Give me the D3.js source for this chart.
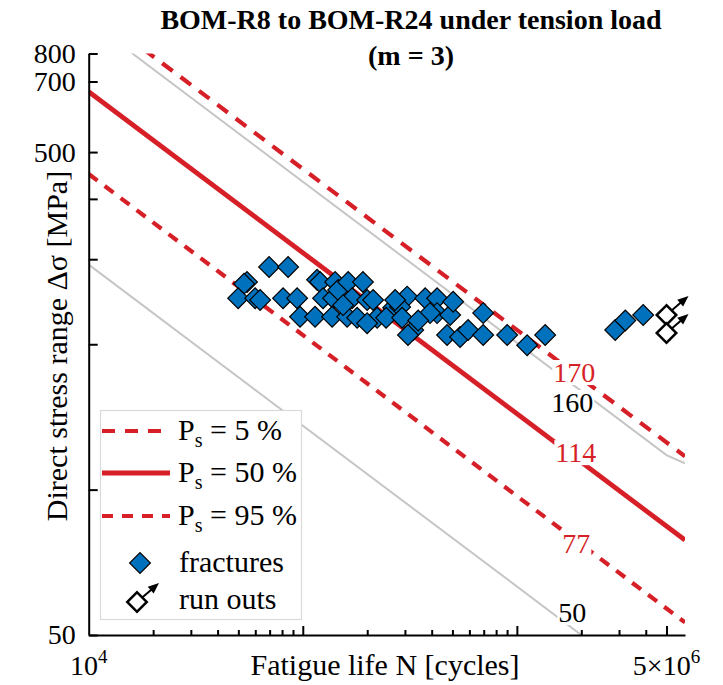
<!DOCTYPE html>
<html>
<head>
<meta charset="utf-8">
<script src="https://cdn.jsdelivr.net/npm/d3@7"></script>
<style>
  body { margin: 0; background: #fff; }
  svg { display: block; }
  text { font-family: "Liberation Serif", "Times New Roman", serif; fill: #000; }
</style>
</head>
<body>
<svg id="chart" width="723" height="685"></svg>
<script>
// ---- data ----------------------------------------------------------
// fractured specimens: cycles to failure and direct stress range [MPa]
const fractureN = [
  69.6e3, 85.4e3, 54.9e3, 53.2e3, 49.9e3, 59.9e3, 63.2e3, 80.9e3, 94.1e3, 97.1e3,
  116.6e3, 120.4e3, 124.4e3, 114.1e3, 141.6e3, 138.5e3, 137.1e3, 146.2e3,
  163e3, 170e3, 161.1e3, 154.3e3, 191e3, 199.8e3, 179.4e3, 213.1e3, 222.5e3, 199.8e3,
  264.2e3, 307.2e3, 285e3, 328e3, 310e3, 245e3, 291e3, 270e3,
  373e3, 424e3, 424e3, 488e3, 472e3, 393e3, 346e3, 504e3,
  543e3, 592e3, 696e3, 696e3, 901e3, 1117e3, 1356e3,
  2880e3, 3210e3, 3890e3
];
const fractureS = [
  289, 289, 269, 267, 249, 249, 247, 249, 249, 228,
  272, 269, 249, 228, 269, 249, 228, 259,
  269, 249, 228, 241, 269, 247, 227, 247, 227, 221,
  238, 251, 239, 214, 209, 227, 227, 247,
  249, 249, 232, 230, 209, 232, 224, 245,
  207, 214, 232, 209, 209, 199, 209,
  214, 224, 230
];
// run-outs (test stopped without failure)
const runoutN = [5e6, 5e6];
const runoutS = [230, 211];

// scatter band: characteristic stress range at 2e6 cycles, slope m = 3
const bandNames  = ["5 %", "50 %", "95 %"];
const bandStress = [170, 114, 77];
const bandLabels = ["170", "114", "77"];

// detail categories (slope 3, knee at 5e6 then slope 5)
const detailStress = [160, 50];
const detailLabels = ["160", "50"];

// axis ticks
const xMajorTicks = [1e5, 1e6, 5e6];
const xMinorTicks = [2e4, 3e4, 4e4, 5e4, 6e4, 7e4, 8e4, 9e4,
                     2e5, 3e5, 4e5, 5e5, 6e5, 7e5, 8e5, 9e5,
                     2e6, 3e6, 4e6];
const yTickValues = [50, 100, 200, 300, 400, 500, 700, 800];
const yTickText   = ["50", "", "", "", "", "500", "700", "800"];

// ---- drawing -------------------------------------------------------
const RED = "#d61f26", BLUE = "#0072bd", GREY = "#c6c6c6";
const FS = 28, FS_LAB = 30;
const svg = d3.select("#chart");

const x = d3.scaleLog().domain([1e4, 6.1e6]).range([88.7, 685]);
const y = d3.scaleLog().domain([50, 800]).range([635, 53.5]);
const [x0, x1] = x.range(), [y0, y1] = y.range();

svg.append("defs").append("clipPath").attr("id", "plotClip")
  .append("rect").attr("x", x0).attr("y", y1).attr("width", x1 - x0).attr("height", y0 - y1);

const plot = svg.append("g").attr("clip-path", "url(#plotClip)");
const line = d3.line().x(d => x(d[0])).y(d => y(d[1]));

const nRef = 2e6, nKnee = 5e6, nStart = 1e4, nEnd = 6.1e6;

// detail-category curves
detailStress.forEach(s => {
  const sKnee = s * Math.pow(nRef / nKnee, 1 / 3);
  const pts = [[nStart, s * Math.pow(nRef / nStart, 1 / 3)],
               [nKnee, sKnee],
               [nEnd, sKnee * Math.pow(nKnee / nEnd, 1 / 5)]];
  plot.append("path").attr("d", line(pts))
    .attr("fill", "none").attr("stroke", GREY).attr("stroke-width", 2);
});

// scatter band curves
const bandDash = ["13,10", null, "11,9"];
const bandWidth = [4.2, 4.8, 4.2];
bandStress.forEach((s, i) => {
  const pts = [[nStart, s * Math.pow(nRef / nStart, 1 / 3)],
               [nEnd, s * Math.pow(nRef / nEnd, 1 / 3)]];
  plot.append("path").attr("d", line(pts))
    .attr("fill", "none").attr("stroke", RED).attr("stroke-width", bandWidth[i])
    .attr("stroke-dasharray", bandDash[i]);
});

// curve labels with white backing
const curveLabels = [
  { text: bandLabels[0], s: bandStress[0], dx: -7,  dy: 3.7, color: RED },
  { text: detailLabels[0], s: detailStress[0], dx: -9, dy: 21, color: "#000" },
  { text: bandLabels[1], s: bandStress[1], dx: -5.5, dy: 0, color: RED },
  { text: bandLabels[2], s: bandStress[2], dx: -5, dy: 8.6, color: RED },
  { text: detailLabels[1], s: detailStress[1], dx: -9, dy: -13, color: "#000" }
];
const labG = svg.append("g");
curveLabels.forEach(l => {
  const g = labG.append("g");
  const t = g.append("text")
    .attr("x", x(nRef) + l.dx).attr("y", y(l.s) + l.dy)
    .attr("text-anchor", "middle").attr("font-size", FS)
    .style("fill", l.color).text(l.text);
  const b = t.node().getBBox();
  g.insert("rect", "text").attr("x", b.x - 1).attr("y", b.y + 3)
    .attr("width", b.width + 2).attr("height", b.height - 6).attr("fill", "#fff");
});

// fractures
const diamond = d3.symbol().type(d3.symbolSquare).size(215);
const fractures = fractureN.map((n, i) => [n, fractureS[i]]);
svg.append("g").selectAll("path").data(fractures).join("path")
  .attr("d", diamond)
  .attr("transform", d => `translate(${x(d[0])},${y(d[1])}) rotate(45)`)
  .attr("fill", BLUE).attr("stroke", "#000").attr("stroke-width", 1.2);

// run-out symbol: open diamond with arrow up-right
function drawRunout(g, cx, cy) {
  const tx = cx + 22, ty = cy - 19;
  const ang = Math.atan2(ty - cy, tx - cx);
  g.append("line").attr("x1", cx).attr("y1", cy).attr("x2", tx - 6 * Math.cos(ang)).attr("y2", ty - 6 * Math.sin(ang))
    .attr("stroke", "#000").attr("stroke-width", 2);
  const L = 11, W = 4.5;
  const bx = tx - L * Math.cos(ang), by = ty - L * Math.sin(ang);
  const px = -Math.sin(ang) * W, py = Math.cos(ang) * W;
  g.append("path")
    .attr("d", `M${tx},${ty}L${bx + px},${by + py}L${bx - px},${by - py}Z`)
    .attr("fill", "#000");
  g.append("path").attr("d", d3.symbol().type(d3.symbolSquare).size(190)())
    .attr("transform", `translate(${cx},${cy}) rotate(45)`)
    .attr("fill", "#fff").attr("stroke", "#000").attr("stroke-width", 2.5);
}
const runG = svg.append("g");
runoutN.forEach((n, i) => drawRunout(runG, x(n), y(runoutS[i])));

// ---- axes ----------------------------------------------------------
const yAxis = d3.axisLeft(y).tickValues(yTickValues)
  .tickSizeInner(-9).tickSizeOuter(0).tickPadding(13)
  .tickFormat((d, i) => yTickText[i]);
const gy = svg.append("g").attr("transform", `translate(${x0},0)`).call(yAxis);
gy.select(".domain").attr("stroke-width", 2);
gy.selectAll(".tick line").attr("stroke-width", 2);
gy.selectAll(".tick text").attr("font-size", FS).attr("font-family", null);

const xAxis = d3.axisBottom(x).tickValues(xMinorTicks.concat(xMajorTicks))
  .tickSizeInner(-5).tickSizeOuter(0).tickFormat("");
const gx = svg.append("g").attr("transform", `translate(0,${y0})`).call(xAxis);
gx.select(".domain").attr("stroke-width", 2);
gx.selectAll(".tick line").attr("stroke-width", 2)
  .attr("y2", d => xMajorTicks.includes(d) ? -9 : -5);

// x tick labels with superscripts
function powLabel(cx, base, exp) {
  const t = svg.append("text").attr("x", cx).attr("y", 675)
    .attr("text-anchor", "middle").attr("font-size", FS);
  t.append("tspan").text(base);
  t.append("tspan").attr("dy", -12).attr("font-size", 19).text(exp);
}
powLabel(x(1e4), "10", "4");
powLabel(x(5e6), "5\u00d710", "6");

svg.append("text").attr("x", 385).attr("y", 675).attr("text-anchor", "middle")
  .attr("font-size", FS_LAB).text("Fatigue life N [cycles]");
svg.append("text").attr("transform", "translate(67,346) rotate(-90)")
  .attr("text-anchor", "middle").attr("font-size", FS_LAB)
  .text("Direct stress range \u0394\u03c3 [MPa]");

// title
svg.append("text").attr("x", 411).attr("y", 29).attr("text-anchor", "middle")
  .attr("font-size", FS).attr("font-weight", "bold")
  .text("BOM-R8 to BOM-R24 under tension load");
svg.append("text").attr("x", 411).attr("y", 65).attr("text-anchor", "middle")
  .attr("font-size", FS).attr("font-weight", "bold").text("(m = 3)");

// ---- legend --------------------------------------------------------
const leg = svg.append("g");
leg.append("rect").attr("x", 100.5).attr("y", 410.5).attr("width", 201).attr("height", 209)
  .attr("fill", "#fff").attr("stroke", "#dadada").attr("stroke-width", 1.2);
const legRows = [431, 473, 516];
bandNames.forEach((nm, i) => {
  const ly = legRows[i];
  leg.append("line").attr("x1", 102).attr("x2", 170).attr("y1", ly).attr("y2", ly)
    .attr("stroke", RED).attr("stroke-width", bandWidth[i])
    .attr("stroke-dasharray", bandDash[i]);
  const t = leg.append("text").attr("x", 178).attr("y", ly + 9).attr("font-size", FS_LAB);
  t.append("tspan").text("P");
  t.append("tspan").attr("dy", 7).attr("font-size", 20).text("s");
  t.append("tspan").attr("dy", -7).text(" = " + nm);
});
leg.append("path").attr("d", diamond)
  .attr("transform", "translate(140,563) rotate(45)")
  .attr("fill", BLUE).attr("stroke", "#000").attr("stroke-width", 1.2);
leg.append("text").attr("x", 179).attr("y", 572).attr("font-size", FS_LAB).text("fractures");
drawRunout(leg, 137, 602);
leg.append("text").attr("x", 179).attr("y", 609).attr("font-size", FS_LAB).text("run outs");
</script>
</body>
</html>
